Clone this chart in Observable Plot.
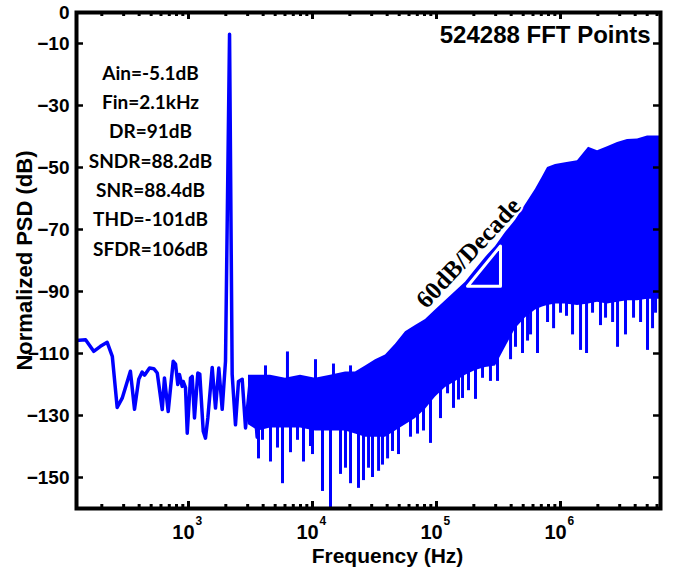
<!DOCTYPE html>
<html><head><meta charset="utf-8">
<script src="https://cdn.jsdelivr.net/npm/d3@7"></script>
<script src="https://cdn.jsdelivr.net/npm/@observablehq/plot@0.6"></script>
<style>body{margin:0;background:#fff}</style>
</head><body><div id="chart"></div>
<script>
// Low-frequency part of the spectrum (individually readable points, incl. the 2.1 kHz tone)
const lowFreq = [121,148,172,195,221,243,266,292,340,367,397,423,442,485,525,560,614,640,686,753,786,820,846,889,906,946,977,1038,1071,1118,1189,1233,1315,1371,1432,1553,1651,1756,1870,1988,2143,2250,2393,2530,2710,2884,3162,3344,3580,3808];
const lowDb = [-105.8,-105.6,-109.3,-107.7,-106.4,-110.9,-127.4,-124.4,-115.7,-128,-118.3,-116,-117,-114.7,-114.9,-116.3,-128.1,-117.9,-128.7,-112.5,-113.4,-120,-116.8,-120.6,-119,-121,-135.7,-117.9,-117.4,-130.8,-116.3,-116.6,-135.1,-137.3,-130.8,-114.5,-127.6,-114.7,-128,-112.5,-7,-116.7,-133,-119,-118.3,-134,-118,-122,-137,-118];

// Dense noise band (upper / lower envelope)
const bandFreq = [3047,3668,4584,6058,8004,10573,13970,18460,22220,26760,32220,38790,46700,56230,67700,81520,98150,118200,142300,171300,206300,248400,299100,360100,433600,522100,628600,716100,785800,911300,1097000,1371000,1682000,1988000,2393000,2882000,3470000,4178000,5030000,6400000];
const bandUpper = [-117,-117,-117,-118,-117,-118,-117,-116,-116,-114,-112,-110.5,-107,-103,-101,-99,-96,-93,-90,-87,-83,-79,-75.5,-71,-67,-62,-57,-53,-50,-49,-48.5,-47.8,-43.5,-44.6,-43.3,-41.9,-41,-40.8,-39.8,-39.8];
const bandLower = [-133,-135,-134,-134,-134,-135,-135,-135,-136,-137,-137,-137,-135,-133,-131,-128,-124,-121,-119,-117,-115.5,-114.5,-114,-108,-102,-98.5,-96,-95,-94.5,-94,-94,-94.5,-94,-93.5,-94,-93.5,-93,-93,-92.5,-92.5];

// Downward noise spikes (frequency, spike bottom, band edge it hangs from)
const spikeFreq = [3668,3950,4584,5220,5731,6646,7570,8460,9636,10000,12040,13970,16820,18460,20260,23500,25780,28300,30470,34100,36680,40300,44170,49370,61700,70260,78500,89450,107700,122700,137100,150400,162100,181100,206300,235000,272300,310400,395300,433600,493700,542000,573100,652400,785800,879000,1000000,1117000,1250000,1450000,1621000,1812000,2100000,2307000,2630000,2882000,3340000,3879000,4420000,5030000,5520000,5836000];
const spikeBottom = [-144,-138,-145,-140.5,-152,-142,-138,-145,-140,-142.6,-154.5,-166,-149,-147,-152,-153.5,-151,-147,-150,-148,-146,-144,-141.6,-142.6,-137,-136,-135,-139,-131,-123,-127.7,-125,-124.5,-122,-124.8,-118,-119,-119,-112,-108,-110,-106,-104,-110,-100,-102,-97,-98,-104,-109,-110,-97,-101,-98.6,-100,-108,-104,-98.6,-100,-109,-102,-97];
const spikeTop = [-130,-130,-130,-130,-130,-130,-130,-130,-130,-130,-130,-130,-130,-130,-131,-132,-132,-132,-132,-132,-132,-132,-130,-128,-127,-126,-124,-122,-118,-116,-115,-114,-112,-111,-110,-109,-109,-108,-100,-98,-96,-93,-92,-91,-90,-90,-90,-90,-90,-90,-90,-90,-90,-90,-90,-90,-90,-90,-90,-90,-90,-90];

// Upward noise spikes
const upFreq = [4178,6281,10573,14760,20260];
const upTop = [-114,-109.5,-112,-113.4,-114];
const upBase = [-119,-119,-119,-119,-119];

// Slope triangle and its label
const triFreq = [178000,328000,328000,178000];
const triDb = [-88.3,-88.3,-75.3,-88.3];
const slopeLabel = ["60dB/Decade"];
const slopeFreq = 181000, slopeDb = -77.6;

const statLines = ["Ain=-5.1dB","Fin=2.1kHz","DR=91dB","SNDR=88.2dB","SNR=88.4dB","THD=-101dB","SFDR=106dB"];
const statFreq = 494, statTopDb = -19.7, statStepDb = 9.47;
const titleText = ["524288 FFT Points"];

const yTicks = [0,-10,-30,-50,-70,-90,-110,-130,-150];
const xMajor = [1e3,1e4,1e5,1e6];
const xExp = ["3","4","5","6"];
const minorMult = [2,3,4,5,6,7,8,9];
const decades = [1e2,1e3,1e4,1e5,1e6];
const xDomain = [125, 6.4e6];
const yDomain = [-160, 0];

const W = 678, H = 576, mL = 76, mR = 18, mT = 12, mB = 68;
const pW = W - mL - mR, pH = H - mT - mB;
const xMinor = decades.flatMap(d => minorMult.map(m => m * d)).filter(v => v > xDomain[0] && v < xDomain[1]);

const band = bandFreq.map((f, i) => ({f, lo: bandLower[i], hi: bandUpper[i]}));
const low = lowFreq.map((f, i) => ({f, db: lowDb[i]}));
const spikes = spikeFreq.map((f, i) => ({f, b: spikeBottom[i], t: spikeTop[i]}));
const ups = upFreq.map((f, i) => ({f, t: upTop[i], b: upBase[i]}));
const tri = triFreq.map((f, i) => ({f, db: triDb[i]}));
const blue = "#0000ff";

const chart = Plot.plot({
  width: W, height: H,
  marginLeft: mL, marginRight: mR, marginTop: mT, marginBottom: mB,
  x: {type: "log", domain: xDomain},
  y: {domain: yDomain},
  style: {fontFamily: "'Liberation Sans', Arial, sans-serif", fontWeight: "bold", background: "white", color: "black"},
  marks: [
    Plot.areaY(band, {x: "f", y1: "lo", y2: "hi", fill: blue, clip: true}),
    Plot.ruleX(spikes, {x: "f", y1: "b", y2: "t", stroke: blue, strokeWidth: 3, clip: true}),
    Plot.ruleX(ups, {x: "f", y1: "b", y2: "t", stroke: blue, strokeWidth: 3, clip: true}),
    Plot.line(low, {x: "f", y: "db", stroke: blue, strokeWidth: 3.5, clip: true}),
    Plot.line(tri, {x: "f", y: "db", stroke: "white", strokeWidth: 3}),
    Plot.text(slopeLabel, {x: () => slopeFreq, y: () => slopeDb, rotate: -47, fontFamily: "'Liberation Serif', 'Times New Roman', serif", fontWeight: "bold", fontSize: 25, fill: "black", stroke: "white", strokeWidth: 4}),
    Plot.text(statLines, {x: () => statFreq, y: (d, i) => statTopDb - i * statStepDb, fontFamily: "Lato, 'Open Sans', sans-serif", fontWeight: "bold", fontSize: 19, fill: "black"}),
    Plot.text(titleText, {frameAnchor: "top-right", dx: -10, dy: 23, textAnchor: "end", lineAnchor: "middle", fontSize: 24, fill: "black"}),
    // inward ticks
    Plot.tickY(yTicks, {y: d => d, insetRight: pW - 7, stroke: "black", strokeWidth: 2.5}),
    Plot.tickY(yTicks, {y: d => d, insetLeft: pW - 7, stroke: "black", strokeWidth: 2.5}),
    Plot.tickX(xMinor, {x: d => d, insetTop: pH - 4, stroke: "black", strokeWidth: 3}),
    Plot.tickX(xMinor, {x: d => d, insetBottom: pH - 4, stroke: "black", strokeWidth: 3}),
    Plot.tickX(xMajor, {x: d => d, insetTop: pH - 7, stroke: "black", strokeWidth: 3}),
    Plot.tickX(xMajor, {x: d => d, insetBottom: pH - 7, stroke: "black", strokeWidth: 3}),
    Plot.axisY({ticks: yTicks, tickSize: 0, tickPadding: 7, fontSize: 19, fontWeight: "bold", label: null}),
    Plot.axisX({ticks: xMajor, tickSize: 0, tickPadding: 16, tickFormat: () => "10", dx: -5, fontSize: 20, fontWeight: "bold", label: null}),
    Plot.text(xMajor, {x: d => d, text: (d, i) => xExp[i], frameAnchor: "bottom", dy: 13, dx: 7, textAnchor: "start", lineAnchor: "middle", fontSize: 12, fill: "black"}),
    Plot.text(["Normalized PSD (dB)"], {frameAnchor: "left", dx: -52, rotate: -90, textAnchor: "middle", lineAnchor: "middle", fontSize: 22, fill: "black"}),
    Plot.text(["Frequency (Hz)"], {frameAnchor: "bottom", dy: 48, dx: 19, textAnchor: "middle", lineAnchor: "middle", fontSize: 21, fill: "black"}),
    Plot.frame({stroke: "black", strokeWidth: 4})
  ]
});
document.getElementById("chart").appendChild(chart);
</script>
</body></html>
